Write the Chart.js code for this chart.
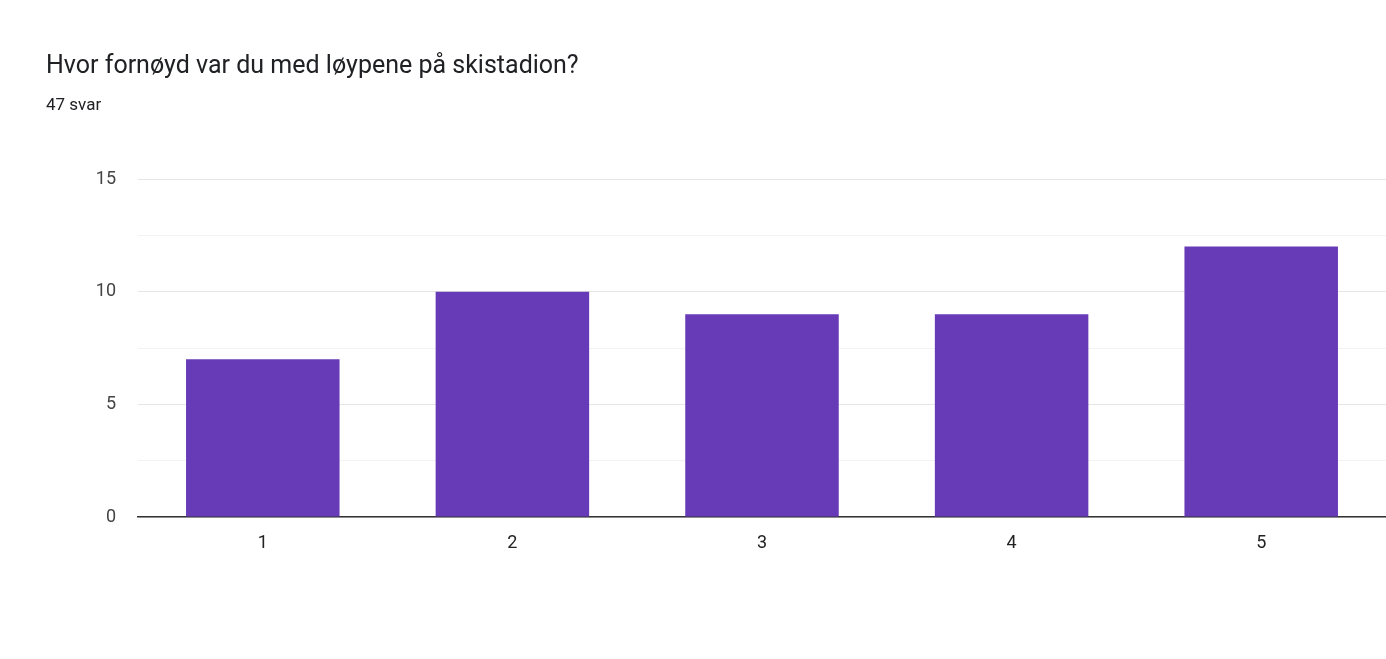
<!DOCTYPE html>
<html><head><meta charset="utf-8">
<script src="https://cdn.jsdelivr.net/npm/chart.js"></script>
<style>
body{margin:0;background:#fff;width:1386px;height:659px;overflow:hidden;font-family:Roboto,Arial,sans-serif;}
#t{position:absolute;left:46px;top:50px;font-size:25px;color:#202124;}
#s{position:absolute;left:46px;top:94px;font-size:17px;color:#202124;}
#w{position:absolute;left:0;top:0;width:1386px;height:659px;}
</style></head><body>
<div id="w"><canvas id="c" width="1386" height="659"></canvas></div>
<div id="t">Hvor fornøyd var du med løypene på skistadion?</div>
<div id="s">47 svar</div>
<script>
const categories=["1","2","3","4","5"];
const values=[7,10,9,9,12];
new Chart(document.getElementById('c'),{
type:'bar',
data:{labels:categories,datasets:[{data:values,backgroundColor:'#673ab7',barPercentage:0.615,categoryPercentage:1}]},
options:{responsive:false,animation:false,
layout:{padding:{top:179,right:0,left:0,bottom:0}},
plugins:{legend:{display:false},tooltip:{enabled:false}},
scales:{
x:{grid:{display:false},border:{color:'#333',width:1.5},
ticks:{color:'#222',font:{family:'Roboto',size:18},padding:8},
afterFit:s=>{s.height=142;}},
y:{min:0,max:15,ticks:{stepSize:2.5,color:'#444',font:{family:'Roboto',size:18},padding:22,
callback:v=>v%5===0?v:''},
grid:{color:c=>c.tick&&c.tick.value%5===0?'#e6e6e6':'#f3f3f3',drawTicks:false},
border:{display:false},
afterFit:s=>{s.width=138;}}
}}});
</script></body></html>
